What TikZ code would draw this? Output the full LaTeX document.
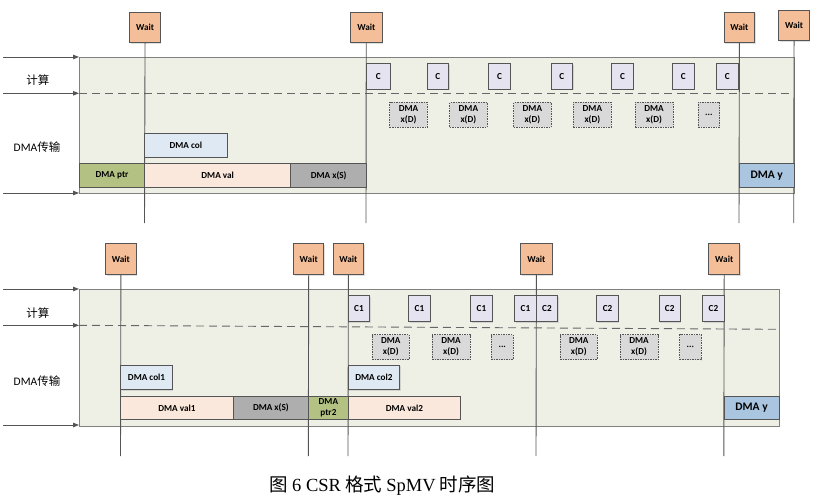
\documentclass[tikz,border=0pt]{standalone}
\usepackage{fontspec}
\setmainfont{Carlito}
\newfontfamily\cjk{Noto Sans CJK SC}
\newfontfamily\capser{Liberation Serif}
\usetikzlibrary{arrows.meta,shadows}
\definecolor{panelfill}{HTML}{EEF0E6}
\definecolor{panelline}{HTML}{808080}
\definecolor{waitfill}{HTML}{F4BF98}
\definecolor{cfill}{HTML}{E6E3F0}
\definecolor{xdfill}{HTML}{D9D9D9}
\definecolor{colfill}{HTML}{DFE9F3}
\definecolor{ptrfill}{HTML}{B3C283}
\definecolor{valfill}{HTML}{FBE8DC}
\definecolor{xsfill}{HTML}{AEAEAE}
\definecolor{yfill}{HTML}{A9C5DF}
\definecolor{edge}{HTML}{555555}
\newcommand\mybox[7]{\node[#1,anchor=north west,minimum width={(#5)-(#3)},minimum height={(#6)-(#4)}] (#2) at (#3,#4) {#7};}
\begin{document}
\begin{tikzpicture}[x=1pt,y=-1pt,
  panel/.style={draw=panelline,line width=0.9pt,fill=panelfill,inner sep=0pt},
  bx/.style={draw=edge,line width=0.8pt,inner sep=0pt,align=center,text=black,font=\fontsize{9.2}{11}\selectfont\bfseries},
  waitbox/.style={bx,fill=waitfill,drop shadow={shadow xshift=1pt,shadow yshift=-1pt,opacity=0.25}},
  cbox/.style={bx,fill=cfill,drop shadow={shadow xshift=1pt,shadow yshift=-1pt,opacity=0.25}},
  xdbox/.style={bx,fill=xdfill,dash pattern=on 1.5pt off 1pt},
  colbox/.style={bx,fill=colfill,drop shadow={shadow xshift=1pt,shadow yshift=-1pt,opacity=0.25}},
  ptrbox/.style={bx,fill=ptrfill},
  valbox/.style={bx,fill=valfill},
  xsbox/.style={bx,fill=xsfill},
  ybox/.style={bx,fill=yfill,font=\fontsize{11.5}{13}\selectfont\bfseries},
  arr/.style={draw=edge,line width=0.9pt,-{Triangle[length=6pt,width=4.5pt]}},
  vline/.style={draw=edge,line width=0.9pt},
  dline/.style={draw=edge!90,line width=0.9pt,dash pattern=on 8pt off 5pt},
  lab/.style={font=\fontsize{11.5}{13}\selectfont,text=black}
]
\useasboundingbox (0,0) rectangle (814,500);

% ================= TOP PANEL =================
\mybox{panel}{p1}{79}{57}{793.7}{193}{}
\coordinate (a1s) at (3,57);   \coordinate (a1e) at (79,57);
\coordinate (a2s) at (3,93.3); \coordinate (a2e) at (79,93.3);
\coordinate (a3s) at (3,193);  \coordinate (a3e) at (79,193);
\draw[arr] (a1s) -- (a1e);
\draw[arr] (a2s) -- (a2e);
\draw[arr] (a3s) -- (a3e);
\coordinate (d1e) at (793.7,93.3);
\draw[dline] (a2e) -- (d1e);
\node[lab] (l1) at (38,80) {\cjk 计算};
\node[lab] (l2) at (37,147) {DMA{\cjk 传输}};

% Wait boxes + lines
\mybox{waitbox}{tw1}{129.3}{11.7}{160}{42.3}{Wait}
\mybox{waitbox}{tw2}{350}{11.7}{381.7}{42.3}{Wait}
\mybox{waitbox}{tw3}{723.7}{11.7}{754.3}{42.3}{Wait}
\mybox{waitbox}{tw4}{778.3}{10.3}{809}{40.3}{Wait}
\coordinate (te1) at (144.5,223);
\coordinate (te2) at (366,223);
\coordinate (te3) at (739,223);
\coordinate (te4) at (793.7,223);
\draw[vline] (tw1.south) -- (te1);
\draw[vline] (tw2.south) -- (te2);
\draw[vline] (tw3.south) -- (te3);
\draw[vline] (tw4.south) -- (te4);

% C boxes
\mybox{cbox}{tc1}{365.7}{63.3}{390}{89}{C}
\mybox{cbox}{tc2}{426.7}{63.3}{448.3}{89}{C}
\mybox{cbox}{tc3}{488.3}{63.3}{510}{89}{C}
\mybox{cbox}{tc4}{550.7}{63.3}{572.3}{89}{C}
\mybox{cbox}{tc5}{611.3}{63.3}{633}{89}{C}
\mybox{cbox}{tc6}{672.3}{63.3}{693.7}{89}{C}
\mybox{cbox}{tc7}{716.3}{63.3}{737.7}{89}{C}

% DMA x(D)
\mybox{xdbox}{tx1}{389.3}{102}{427}{127}{DMA\\x(D)}
\mybox{xdbox}{tx2}{449.3}{102}{486.7}{127}{DMA\\x(D)}
\mybox{xdbox}{tx3}{513.3}{102}{550.7}{127}{DMA\\x(D)}
\mybox{xdbox}{tx4}{573}{102}{611}{127}{DMA\\x(D)}
\mybox{xdbox}{tx5}{634.7}{102}{672.7}{127}{DMA\\x(D)}
\mybox{xdbox}{tx6}{697.7}{102}{719.3}{127}{...}

% DMA transfers
\mybox{colbox}{tcol}{144.3}{132.7}{226.7}{157}{DMA col}
\mybox{ptrbox}{tptr}{79}{163.3}{144.3}{187.3}{DMA ptr}
\mybox{valbox}{tval}{144.3}{163.3}{290.3}{187.3}{DMA val}
\mybox{xsbox}{txs}{290.3}{163.3}{366.3}{187.3}{DMA x(S)}
\mybox{ybox}{ty}{739}{163.3}{793.7}{187.3}{DMA y}

% ================= BOTTOM PANEL =================
\mybox{panel}{p2}{79}{289}{778.7}{425.5}{}
\coordinate (b1s) at (3,289);   \coordinate (b1e) at (79,289);
\coordinate (b2s) at (3,325.3); \coordinate (b2e) at (79,325.3);
\coordinate (b3s) at (3,425);   \coordinate (b3e) at (79,425);
\draw[arr] (b1s) -- (b1e);
\draw[arr] (b2s) -- (b2e);
\draw[arr] (b3s) -- (b3e);
\coordinate (d2e) at (778.7,329.3);
\draw[dline] (b2e) -- (d2e);
\node[lab] (l3) at (38,313.3) {\cjk 计算};
\node[lab] (l4) at (37,380.7) {DMA{\cjk 传输}};

\mybox{waitbox}{bw1}{105.3}{243.3}{135.7}{274.3}{Wait}
\mybox{waitbox}{bw2}{293.3}{243.3}{323.3}{274.3}{Wait}
\mybox{waitbox}{bw3}{332.7}{243.3}{363.3}{274.3}{Wait}
\mybox{waitbox}{bw4}{520.3}{243.3}{551.7}{274.3}{Wait}
\mybox{waitbox}{bw5}{708.3}{243.3}{739.3}{274.3}{Wait}
\coordinate (be1) at (120.5,456);
\coordinate (be2) at (308.3,456);
\coordinate (be3) at (348,456);
\coordinate (be4) at (536,456);
\coordinate (be5) at (723.8,456);
\draw[vline] (bw1.south) -- (be1);
\draw[vline] (bw2.south) -- (be2);
\draw[vline] (bw3.south) -- (be3);
\draw[vline] (bw4.south) -- (be4);
\draw[vline] (bw5.south) -- (be5);

\mybox{cbox}{bc1}{347.7}{295.3}{369.3}{321.3}{C1}
\mybox{cbox}{bc2}{408.3}{295.3}{429.7}{321.3}{C1}
\mybox{cbox}{bc3}{470.3}{295.3}{491.7}{321.3}{C1}
\mybox{cbox}{bc4}{514.3}{295.3}{535.7}{321.3}{C1}
\mybox{cbox}{bc5}{535.7}{295.3}{557.3}{321.3}{C2}
\mybox{cbox}{bc6}{596.3}{295.3}{618}{321.3}{C2}
\mybox{cbox}{bc7}{658.7}{295.3}{680}{321.3}{C2}
\mybox{cbox}{bc8}{702.3}{295.3}{723.7}{321.3}{C2}

\mybox{xdbox}{bx1}{372}{334.3}{408.7}{359.3}{DMA\\x(D)}
\mybox{xdbox}{bx2}{431.7}{334.3}{469.7}{359.3}{DMA\\x(D)}
\mybox{xdbox}{bx3}{491}{334.3}{512.7}{359.3}{...}
\mybox{xdbox}{bx4}{560}{334.3}{596.7}{359.3}{DMA\\x(D)}
\mybox{xdbox}{bx5}{619.7}{334.3}{657.7}{359.3}{DMA\\x(D)}
\mybox{xdbox}{bx6}{679.3}{334.3}{700.7}{359.3}{...}

\mybox{colbox}{bcol1}{120.3}{365}{172}{389.3}{DMA col1}
\mybox{colbox}{bcol2}{347.7}{365}{399.3}{389.3}{DMA col2}
\mybox{valbox}{bval1}{120.3}{395.7}{232.7}{419.3}{DMA val1}
\mybox{xsbox}{bxs}{232.7}{395.7}{308.3}{419.3}{DMA x(S)}
\mybox{ptrbox}{bptr}{308.3}{395.7}{347.7}{419.3}{DMA\\ptr2}
\mybox{valbox}{bval2}{347.7}{395.7}{460.3}{419.3}{DMA val2}
\mybox{ybox}{by}{723.7}{395.7}{778.7}{419.3}{DMA y}

% caption
\node[font=\fontsize{18.5}{20}\selectfont,text=black] (cap) at (382.5,485.5) {{\cjk 图} {\capser 6 CSR} {\cjk 格式} {\capser SpMV} {\cjk 时序图}};
\end{tikzpicture}
\end{document}
